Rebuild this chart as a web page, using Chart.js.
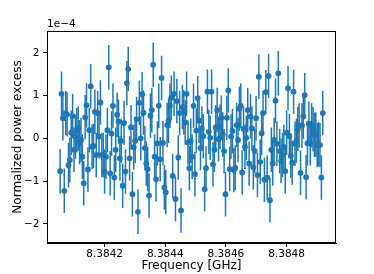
<!DOCTYPE html>
<html>
<head>
<meta charset="utf-8">
<script src="https://cdn.jsdelivr.net/npm/chart.js@4/dist/chart.umd.min.js"></script>
<style>
  html, body { margin: 0; padding: 0; background: #fff; }
  canvas { display: block; }
</style>
</head>
<body>
<canvas id="grafico" width="374" height="274"></canvas>
<script>
// Frequency sweep grid (GHz): first point and step between points
const F_START = 8.3840533;
const F_STEP = 0.0000045825;

// Normalized power excess, in units of 1e-4 (left to right)
const excess = [
    -0.77, 1.04, 0.47, -1.23, 0.59, 0.56, -0.63, -0.51, 0.13, 0.52,
    -0.27, 0.04, 0.19, 0.23, -0.09, -0.04, -0.43, -1.05, 0.49, 0.77,
    -0.73, 0.19, 1.22, -0.20, -0.18, 0.62, -0.39, 0.59, 0.04, 0.84,
    -0.39, -0.39, -0.78, -0.43, 0.19, 1.66, -0.82, 0.11, 0.76, -0.92,
    -0.27, 0.55, 0.39, -0.47, -0.06, -1.11,
    0.36, -0.78, 1.29, 1.62, -0.47, 0.26, -1.31, -0.21, -0.06, 0.45,
    -1.72, 0.83, 0.00, 1.03, 0.60, -0.23, -0.59, -0.72, -1.34, 0.53,
    0.66, 1.72, -0.43, -0.96, -0.12, 0.76, -0.49, 1.41, -0.11, -1.15,
    -1.26, 0.31, 0.41, 0.76, 0.95, -0.88, 1.04, -1.42, 0.87, -0.45,
    0.59, -1.69, 0.73, 0.61, 0.37, 1.04, -0.10, -0.70,
    -0.06, -0.43, 0.76, -0.84, 0.18, 0.94, 0.41, -0.23, 0.23, 0.05,
    -1.19, -0.70, 1.09, 0.15, 0.01, 1.09, -0.61, -0.27, 0.26, 0.66,
    -0.02, 0.27, 0.48, 0.09, -0.30, -1.31, 0.48, 1.12, -0.72, 0.04,
    0.17, -0.74, -0.69, 0.31, -0.04, 0.69, 0.76, -0.80, 0.22, -0.20,
    0.01, 0.66, -0.59, 0.51, 0.23, -0.68, -0.30,
    0.47, -0.86, 1.44, -0.55, 0.12, 0.59, -0.97, 1.08, -0.92, 1.46,
    -1.45, -0.27, -0.59, -0.04, 0.88, -0.13, 1.52, -0.30, -0.53, -0.39,
    -0.20, -0.77, 0.13, 1.17, 0.05, -0.41, -0.57, 1.09, -0.13, -0.06,
    0.22, 0.30, -0.81, 0.30, 0.51, 1.01, -0.91, -0.12, 0.34, -0.12,
    0.30, 0.21, 0.08, 0.09, -0.16, -0.14, -0.16, -0.92, 0.59
];

// Error bar half-length (same units), roughly constant across the sweep
const ERR = 0.52;

const xTicks = [8.3842, 8.3844, 8.3846, 8.3848];
const yTicks = [-2, -1, 0, 1, 2];

const AZUL = '#1f77b4';
const FONTE_TICK = { family: 'DejaVu Sans', size: 10.5 };
const FONTE_TITULO = { family: 'DejaVu Sans', size: 12 };

const pontos = excess.map((v, i) => ({ x: F_START + i * F_STEP, y: v }));

// Barras de erro desenhadas com as escalas do próprio Chart.js
const barrasErro = {
    id: 'barrasErro',
    beforeDatasetsDraw(chart) {
        const { ctx, chartArea, scales } = chart;
        ctx.save();
        ctx.beginPath();
        ctx.rect(chartArea.left, chartArea.top, chartArea.right - chartArea.left, chartArea.bottom - chartArea.top);
        ctx.clip();
        ctx.strokeStyle = AZUL;
        ctx.lineWidth = 1.5;
        pontos.forEach(p => {
            const x = scales.x.getPixelForValue(p.x);
            ctx.beginPath();
            ctx.moveTo(x, scales.y.getPixelForValue(p.y - ERR));
            ctx.lineTo(x, scales.y.getPixelForValue(p.y + ERR));
            ctx.stroke();
        });
        ctx.restore();
    },
    afterDraw(chart) {
        const { ctx, chartArea } = chart;
        ctx.save();
        // moldura completa (spines)
        ctx.strokeStyle = '#000';
        ctx.lineWidth = 1;
        ctx.strokeRect(Math.round(chartArea.left) + 0.5, Math.round(chartArea.top) + 0.5,
            Math.round(chartArea.right - chartArea.left) - 1, Math.round(chartArea.bottom - chartArea.top) - 1);
        // texto de offset do eixo y
        ctx.fillStyle = '#000';
        ctx.font = '10.5px "DejaVu Sans"';
        ctx.textAlign = 'left';
        ctx.textBaseline = 'alphabetic';
        ctx.fillText('1e\u22124', chartArea.left, chartArea.top - 4);
        ctx.restore();
    }
};

Chart.defaults.color = '#000';

new Chart(document.getElementById('grafico'), {
    type: 'scatter',
    data: {
        datasets: [{
            data: pontos,
            pointRadius: 2.9,
            pointHoverRadius: 2.9,
            pointBackgroundColor: AZUL,
            pointBorderWidth: 0,
            showLine: false
        }]
    },
    options: {
        responsive: false,
        animation: false,
        events: [],
        layout: { padding: { left: 0, right: 38, top: 31, bottom: 0 } },
        plugins: {
            legend: { display: false },
            tooltip: { enabled: false }
        },
        scales: {
            x: {
                type: 'linear',
                min: 8.38401,
                max: 8.384963,
                afterFit: s => { s.height = 31; },
                afterBuildTicks: s => { s.ticks = xTicks.map(v => ({ value: v })); },
                grid: { drawOnChartArea: false, drawTicks: true, tickLength: 4, tickColor: '#000' },
                border: { display: true, color: '#000' },
                ticks: {
                    font: FONTE_TICK,
                    padding: 1,
                    maxRotation: 0,
                    callback: v => v.toFixed(4)
                },
                title: {
                    display: true,
                    text: 'Frequency [GHz]',
                    font: FONTE_TITULO,
                    padding: { top: 0, bottom: 1 }
                }
            },
            y: {
                min: -2.45,
                max: 2.51,
                afterFit: s => { s.width = 47; },
                afterBuildTicks: s => { s.ticks = yTicks.map(v => ({ value: v })); },
                grid: { drawOnChartArea: false, drawTicks: true, tickLength: 4, tickColor: '#000' },
                border: { display: true, color: '#000' },
                ticks: {
                    font: FONTE_TICK,
                    padding: 3.5,
                    callback: v => v < 0 ? '\u2212' + Math.abs(v) : String(v)
                },
                title: {
                    display: true,
                    text: 'Normalized power excess',
                    font: FONTE_TITULO,
                    padding: { top: 10.5, bottom: 0 }
                }
            }
        }
    },
    plugins: [barrasErro]
});
</script>
</body>
</html>
